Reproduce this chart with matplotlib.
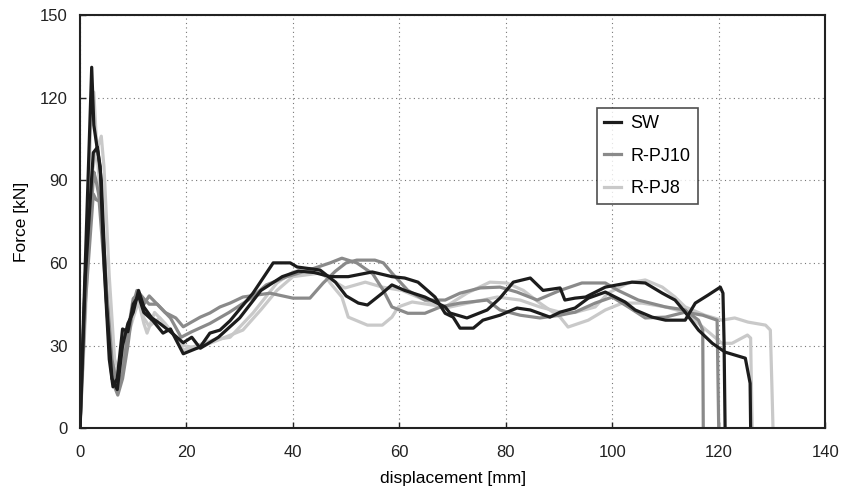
import numpy as np
import matplotlib
matplotlib.use('Agg')
import matplotlib.pyplot as plt

plt.rcParams['font.family'] = ['Liberation Sans', 'DejaVu Sans']

# SW specimens (dark)
sw1_x = [0, 1, 2.2, 2.6, 3.2, 3.8, 4.5, 5.5, 6.2, 7, 8, 9, 10, 11, 12, 13.7, 15.6, 17, 19.4, 22.6, 24.4, 26.3,
         28.2, 32.5, 36.3, 39.5, 40.8, 45.1, 48, 50, 52.3, 54, 56.8, 58.6, 61, 64.8, 68.6, 69.5, 72.7, 76.5, 78.9,
         81.4, 84.6, 87, 90.2, 91.1, 93, 95, 98.7, 103.7, 106.2, 109.4, 111.8, 113.7, 116.2, 118.8, 121.2, 125,
         125.9, 126]
sw1_y = [0, 60, 131, 110, 102, 95, 60, 25, 15, 18, 36, 35, 45, 48, 42, 39, 34.5, 36, 27, 29.5, 34.5, 35.6,
         39, 49, 60, 60, 58.5, 57.4, 53, 48, 45.4, 44.7, 49, 52, 50, 47.6, 44, 41.8, 40, 42.9, 47.2,
         53, 54.5, 50, 50.9, 46.5, 47.2, 47.6, 51.2, 53, 52.7, 49, 46.5, 42.1, 35.6, 30.8, 27.6, 25.4,
         16.3, 0]
sw2_x = [0, 1, 2.5, 3.3, 4, 5, 6, 7, 8, 9, 10, 11, 12, 13.5, 15, 17, 19.4, 21, 22.6, 26, 30, 34, 38, 41, 44,
         47, 50.4, 54.9, 58.6, 61, 63.5, 66.7, 68.6, 70.1, 71.4, 73.9, 75.7, 78.9, 82.1, 84.6, 88.3, 90.2, 93,
         95.5, 98.7, 102.4, 104.3, 107.5, 110, 113.7, 115.6, 118, 120.3, 120.8, 121, 121.2]
sw2_y = [0, 55, 100, 102, 90, 45, 18, 14, 30, 38, 42, 50, 44, 40, 38, 35, 31, 33, 29, 33, 40, 50, 55, 57, 56.5,
         55, 55, 56.7, 55, 54.5, 53, 47.6, 41.7, 40.3, 36.3, 36.3, 39.2, 41, 43.6, 42.9, 40.3, 42.1, 43.6,
         47.2, 49.4, 45.8, 42.9, 40.3, 39.2, 39.2, 45.4, 48.3, 51.2, 49, 32, 0]

# R-PJ10 specimens (mid grey)
pj10a_x = [0, 1, 2.6, 3, 3.5, 4.5, 5.5, 6.5, 7.1, 8, 9, 10, 10.7, 12, 13, 14.5, 16, 18, 19.4, 22.6, 24.4, 26.3,
           28.2, 30.6, 35.7, 40, 43.2, 45.7, 48, 50, 52, 55.4, 57, 58.6, 61.6, 64.8, 68.6, 71.4, 75.2, 78.9,
           82.1, 85.9, 90.2, 94.3, 98.7, 101.1, 104.9, 110, 113.7, 116.2, 117, 117.1]
pj10a_y = [0, 50, 93, 90, 85, 60, 30, 15, 12, 18, 30, 45, 50, 47, 45, 45, 42, 40, 36.8, 40.3, 41.8, 44,
           45.4, 47.6, 49, 47.2, 47.2, 52.7, 57, 60, 61, 61, 60, 56.3, 50, 46.5, 46.5, 49, 50.9, 51.2,
           49.4, 46.5, 50, 52.7, 52.7, 50, 46.5, 44, 42.9, 39.2, 35.6, 0]
pj10b_x = [0, 1, 2.5, 3, 4, 5, 6, 7, 8, 9, 10, 11, 12, 13, 15, 17, 19, 21, 24.4, 28, 32, 35, 38.9, 43, 47,
           49.2, 52, 55, 57, 58.6, 61.6, 64.8, 67.7, 71.4, 76.5, 78.9, 82.7, 86.4, 90.2, 93, 96.8, 100, 103,
           106.2, 110, 113.7, 117, 119.7, 120]
pj10b_y = [0, 45, 85, 83, 82, 50, 25, 15, 20, 35, 47, 49, 45, 48, 44, 40, 33, 35, 38, 42, 47, 52, 55, 57.4, 60,
           61.7, 60, 56, 50, 44, 41.7, 41.7, 44, 45.4, 46.5, 42.9, 41, 40, 41, 42.1, 45.4, 47.6, 44,
           40, 40.3, 42.1, 41, 39.2, 0]

# R-PJ8 specimens (light grey)
pj8a_x = [0, 1, 2, 3, 4, 4.5, 5.5, 6.5, 7.5, 8.5, 10, 11, 12, 12.6, 14, 16, 18, 19.4, 22, 25, 28.2, 32.5, 37,
          40, 43.2, 45.7, 47, 49.2, 50.4, 54, 56.8, 58.6, 59.8, 62.4, 68.6, 72.7, 77, 80.2, 83.3, 86.4, 90.2,
          91.7, 95.5, 98.7, 101.9, 105.6, 110, 113.7, 117, 120.6, 122.5, 125.4, 126, 126.1, 126.3]
pj8a_y = [0, 40, 90, 100, 106, 95, 55, 25, 20, 30, 40, 46, 38, 34.5, 42, 38, 33, 28.3, 30, 32, 33, 41.8, 52.7,
          56.7, 58, 56.3, 52.7, 47.6, 40.3, 37.4, 37.4, 40.3, 44, 45.8, 44, 49, 53, 52.7, 50, 45.4, 40.3,
          36.7, 39.2, 42.9, 45.4, 45.4, 44, 42, 36.7, 30.8, 30.8, 33.8, 32.7, 20, 0]
pj8b_x = [0, 1, 2, 2.6, 3.2, 4, 5, 6, 7, 8, 9, 10, 11, 12, 13, 15, 17, 19.4, 22, 26, 30.6, 34, 37, 40, 45.1,
          49.8, 53.6, 56.8, 60.5, 64.8, 68.6, 73.9, 78.4, 82.7, 86.4, 90.2, 93, 96.8, 99.2, 103, 106.2, 109.4,
          111.8, 113.7, 117.4, 120.6, 123, 125.5, 128.8, 129.7, 130, 130.2]
pj8b_y = [0, 45, 110, 122, 100, 80, 50, 25, 18, 32, 36, 42, 47, 40, 37, 40, 35, 30, 29, 32, 35.6, 43, 50, 55,
          56.3, 50.9, 53, 51.2, 50, 46.5, 43.6, 45.8, 47.6, 46.5, 44, 42.1, 42, 44, 49, 52.7, 53.8, 51.2,
          47.6, 44, 41, 39.2, 40, 38.5, 37.4, 35.6, 14.9, 0]

c_sw = '#1c1c1c'
c_pj10 = '#8a8a8a'
c_pj8 = '#c9c9c9'
lw = 2.3

fig, ax = plt.subplots(figsize=(8.42, 4.99), dpi=100)
fig.subplots_adjust(left=0.095, right=0.98, bottom=0.142, top=0.97)

ax.plot(pj8b_x, pj8b_y, color=c_pj8, lw=lw)
ax.plot(pj8a_x, pj8a_y, color=c_pj8, lw=lw, label='R-PJ8')
ax.plot(pj10b_x, pj10b_y, color=c_pj10, lw=lw)
ax.plot(pj10a_x, pj10a_y, color=c_pj10, lw=lw, label='R-PJ10')
ax.plot(sw2_x, sw2_y, color=c_sw, lw=lw)
ax.plot(sw1_x, sw1_y, color=c_sw, lw=lw, label='SW')

ax.set_xlim(0, 140)
ax.set_ylim(0, 150)
ax.set_xticks(np.arange(0, 141, 20))
ax.set_yticks(np.arange(0, 151, 30))
ax.grid(True, color='#777777', linestyle=(0, (1, 3)), linewidth=0.8)
ax.tick_params(direction='in', length=4, width=1, labelsize=12, colors='#222222')
ax.tick_params(axis='x', pad=12)
ax.tick_params(axis='y', pad=9)
for s in ax.spines.values():
    s.set_linewidth(1.5)
    s.set_color('#222222')

ax.set_xlabel('displacement [mm]', fontsize=12.5, labelpad=8)
ax.set_ylabel('Force [kN]', fontsize=12.5, labelpad=8)

h, l = ax.get_legend_handles_labels()
leg = ax.legend(h[::-1], l[::-1], loc='upper left', bbox_to_anchor=(0.694, 0.775),
                fontsize=13, frameon=True, fancybox=False, handlelength=0.9,
                handletextpad=0.55, borderpad=0.4, labelspacing=0.85, borderaxespad=0)
leg.get_frame().set_edgecolor('#222222')
leg.get_frame().set_linewidth(1.2)

plt.savefig('out.png', dpi=100)
